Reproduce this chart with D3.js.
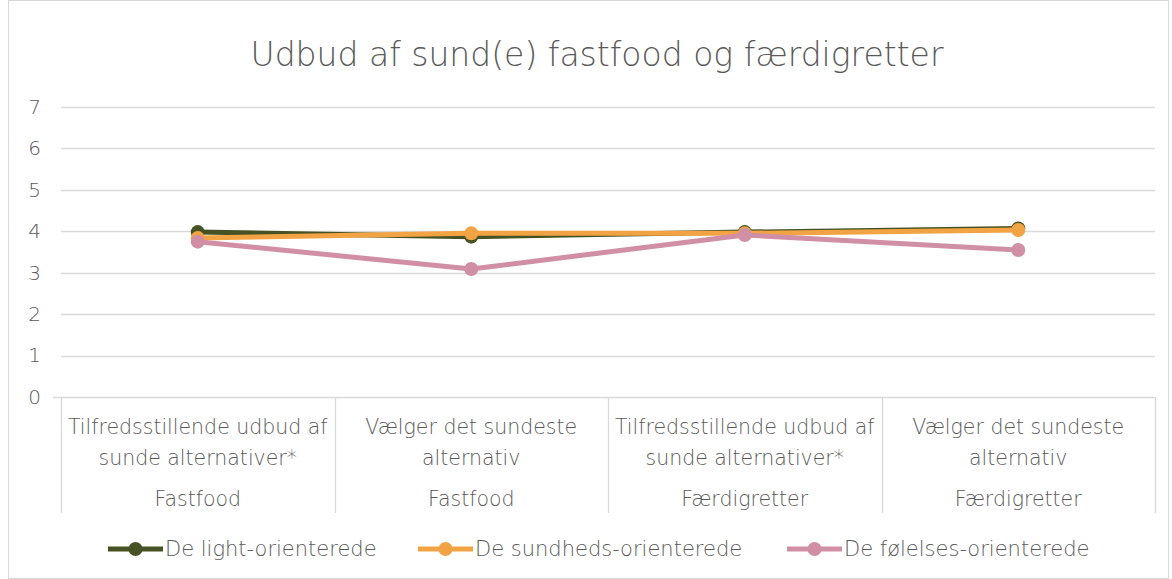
<!DOCTYPE html>
<html>
<head>
<meta charset="utf-8">
<script src="https://cdn.jsdelivr.net/npm/d3@7"></script>
<style>
  body { margin: 0; background: #fff; }
  text { font-family: "DejaVu Sans", sans-serif; font-weight: 200; fill: #595959; }
</style>
</head>
<body>
<div id="chart-area"></div>
<script>
// --- Data ---
var categories = ["Tilfredsstillende udbud af|sunde alternativer*", "Vælger det sundeste|alternativ",
                  "Tilfredsstillende udbud af|sunde alternativer*", "Vælger det sundeste|alternativ"];
var groups = ["Fastfood", "Fastfood", "Færdigretter", "Færdigretter"];
var seriesNames = ["De light-orienterede", "De sundheds-orienterede", "De følelses-orienterede"];
var lightValues = [3.98, 3.87, 3.98, 4.07];
var sundhedValues = [3.84, 3.95, 3.95, 4.03];
var foelelsesValues = [3.75, 3.09, 3.91, 3.55];
var yTicks = [0, 1, 2, 3, 4, 5, 6, 7];
var colors = ["#465223", "#F2A444", "#D08FA5"];

var series = [lightValues, sundhedValues, foelelsesValues];

// --- Canvas ---
var W = 1172, H = 579;
var margins = {top: 107, bottom: 182, left: 61, right: 17};
var width = W - margins.left - margins.right;
var height = H - margins.top - margins.bottom;

var svg = d3.select("#chart-area").append("svg")
    .attr("width", W)
    .attr("height", H);

// chart border
svg.append("rect")
    .attr("x", 8.5).attr("y", 0.5)
    .attr("width", W - 12).attr("height", H - 1)
    .attr("fill", "none")
    .attr("stroke", "#d9d9d9");

// title
svg.append("text")
    .text("Udbud af sund(e) fastfood og færdigretter")
    .attr("x", 597)
    .attr("y", 66)
    .attr("font-size", "33px")
    .attr("text-anchor", "middle");

var group = svg.append("g")
    .attr("transform", "translate(" + margins.left + ", " + margins.top + ")");

// --- Scales ---
var xScale = d3.scaleBand()
    .domain(d3.range(categories.length))
    .range([0, width]);

var yScale = d3.scaleLinear()
    .domain([0, 7])
    .range([height, 0]);

// gridlines
group.selectAll(".grid")
    .data(yTicks.filter(function(d) { return d > 0; }))
    .enter().append("line")
    .attr("x1", 0).attr("x2", width)
    .attr("y1", function(d) { return Math.round(yScale(d)) + 0.5; })
    .attr("y2", function(d) { return Math.round(yScale(d)) + 0.5; })
    .attr("stroke", "#d9d9d9")
    .attr("stroke-width", 1.3);

// y axis labels
var yAxis = d3.axisLeft(yScale).tickValues(yTicks).tickFormat(d3.format("d")).tickSize(0).tickPadding(20);
var yAxisGroup = group.append("g").call(yAxis);
yAxisGroup.select(".domain").remove();
yAxisGroup.selectAll("text")
    .attr("font-size", "20px")
    .attr("fill", "#595959")
    .attr("font-family", "'DejaVu Sans', sans-serif")
    .attr("font-weight", 200);

// x axis line and category separators
var sepBottom = 116;
group.append("line")
    .attr("x1", -8).attr("x2", width)
    .attr("y1", height + 0.5).attr("y2", height + 0.5)
    .attr("stroke", "#d9d9d9").attr("stroke-width", 1.3);

var seps = d3.range(categories.length + 1);
group.selectAll(".sep")
    .data(seps)
    .enter().append("line")
    .attr("x1", function(d) { return Math.round(d * xScale.step()) + 0.5; })
    .attr("x2", function(d) { return Math.round(d * xScale.step()) + 0.5; })
    .attr("y1", height)
    .attr("y2", height + sepBottom)
    .attr("stroke", "#d9d9d9").attr("stroke-width", 1.3);

// category labels
categories.forEach(function(c, i) {
    var cx = xScale(i) + xScale.bandwidth() / 2;
    var lines = c.split("|");
    lines.forEach(function(l, j) {
        group.append("text")
            .text(l)
            .attr("x", cx)
            .attr("y", height + 37 + j * 31)
            .attr("font-size", "20.5px")
            .attr("text-anchor", "middle");
    });
    group.append("text")
        .text(groups[i])
        .attr("x", cx)
        .attr("y", height + 109)
        .attr("font-size", "20.5px")
        .attr("text-anchor", "middle");
});

// --- Lines ---
var line = d3.line()
    .x(function(d, i) { return xScale(i) + xScale.bandwidth() / 2; })
    .y(function(d) { return yScale(d); });

series.forEach(function(values, s) {
    group.append("path")
        .datum(values)
        .attr("d", line)
        .attr("fill", "none")
        .attr("stroke", colors[s])
        .attr("stroke-width", 5)
        .attr("stroke-linejoin", "round")
        .attr("stroke-linecap", "round");
    group.selectAll(".pt" + s)
        .data(values)
        .enter().append("circle")
        .attr("cx", function(d, i) { return xScale(i) + xScale.bandwidth() / 2; })
        .attr("cy", function(d) { return yScale(d); })
        .attr("r", 7)
        .attr("fill", colors[s]);
});

// --- Legend ---
var legendX = [108, 418, 787];
var legendY = 549;
seriesNames.forEach(function(name, s) {
    var lg = svg.append("g").attr("transform", "translate(" + legendX[s] + "," + legendY + ")");
    lg.append("line")
        .attr("x1", 0).attr("x2", 55)
        .attr("y1", 0).attr("y2", 0)
        .attr("stroke", colors[s]).attr("stroke-width", 5);
    lg.append("circle")
        .attr("cx", 27.5).attr("cy", 0).attr("r", 7)
        .attr("fill", colors[s]);
    lg.append("text")
        .text(name)
        .attr("x", 57)
        .attr("y", 7)
        .attr("font-size", "21px");
});
</script>
</body>
</html>
